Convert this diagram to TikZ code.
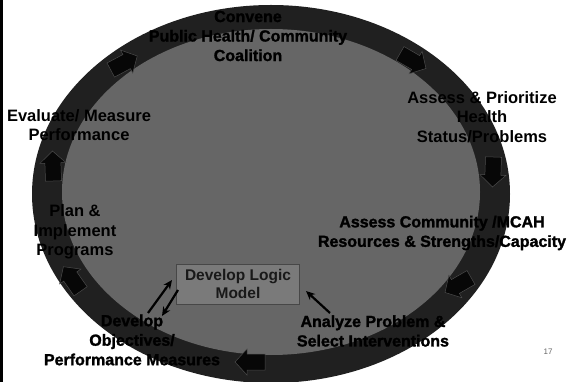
\documentclass[tikz,border=0pt]{standalone}
\usepackage{fontspec}
\setmainfont{Liberation Sans}
\newfontfamily\heavyfont{Liberation Sans Bold}[FakeBold=1.6]
\usetikzlibrary{arrows.meta}

\definecolor{ringdark}{HTML}{202020}
\definecolor{coregray}{HTML}{666666}
\definecolor{boxgray}{HTML}{7A7A7A}
\definecolor{boxedge}{HTML}{474747}
\definecolor{tipdark}{HTML}{070707}

\begin{document}
\begin{tikzpicture}[
    x=1pt, y=-1pt,
    ringtip/.pic={
        \fill[tipdark, draw=black!70, line width=0.5pt]
            (-15,-8) -- (3,-8) -- (3,-13) -- (15,0) -- (3,13) -- (3,8) -- (-15,8) -- cycle;
    },
    steplabel/.style={align=center, font=\bfseries\fontsize{16.5}{19.5}\selectfont, text=black, inner sep=0pt},
    heavylabel/.style={align=center, font=\heavyfont\fontsize{16}{19.5}\selectfont, text=black, inner sep=0pt},
    modelbox/.style={rectangle, draw=boxedge, fill=boxgray, line width=0.8pt, minimum width=123pt,
        minimum height=40pt, align=center, font=\bfseries\fontsize{15.5}{17.5}\selectfont, text=black!90},
    link/.style={-{Stealth[length=9pt,width=8pt]}, line width=2.2pt, black}
]
\useasboundingbox (0,0) rectangle (576,382);
\fill[white] (0,0) rectangle (576,382);

% Cycle ring
\fill[ringdark] (271,194) ellipse [x radius=239, y radius=189];
\fill[coregray] (271,192) ellipse [x radius=209, y radius=163];

% Block arrows round the ring
\pic[rotate=28] at (124,63) {ringtip};
\pic[rotate=-30] at (413,61) {ringtip};
\pic[rotate=-92] at (493,172) {ringtip};
\pic[rotate=-150] at (458,285) {ringtip};
\pic[rotate=180] at (250,362) {ringtip};
\pic[rotate=125] at (72,279) {ringtip};
\pic[rotate=92] at (53,166) {ringtip};

% Steps
\node[heavylabel] (convene) at (248,36) {Convene\\Public Health/ Community\\Coalition};
\node[steplabel] (assess) at (482,117) {Assess \& Prioritize\\Health\\Status/Problems};
\node[heavylabel] (resources) at (442,233) {Assess Community /MCAH\\Resources \& Strengths/Capacity};
\node[heavylabel] (analyze) at (373,331) {Analyze Problem \&\\Select Interventions};
\node[heavylabel] (objectives) at (132,340) {Develop\\Objectives/\\Performance Measures};
\node[steplabel] (plan) at (75,232) {Plan \&\\Implement\\Programs};
\node[steplabel] (evaluate) at (79,125) {Evaluate/ Measure\\Performance};

% Logic model
\node[modelbox] (logic) at (238,284) {Develop Logic\\Model};

\coordinate (objup) at (148,313);
\coordinate (logicin) at (172,280);
\coordinate (logicout) at (178,290);
\coordinate (objdown) at (162,316);
\coordinate (analyzeup) at (330,313);
\coordinate (logicright) at (306,291);
\draw[link] (objup) -- (logicin);
\draw[link] (logicout) -- (objdown);
\draw[link] (analyzeup) -- (logicright);

% Page number and frame edge
\node[font=\fontsize{8}{9}\selectfont, text=black!60] (pagenum) at (548,352) {17};
\draw[line width=2.5pt] (1.25,0) -- (1.25,382);
\end{tikzpicture}
\end{document}
